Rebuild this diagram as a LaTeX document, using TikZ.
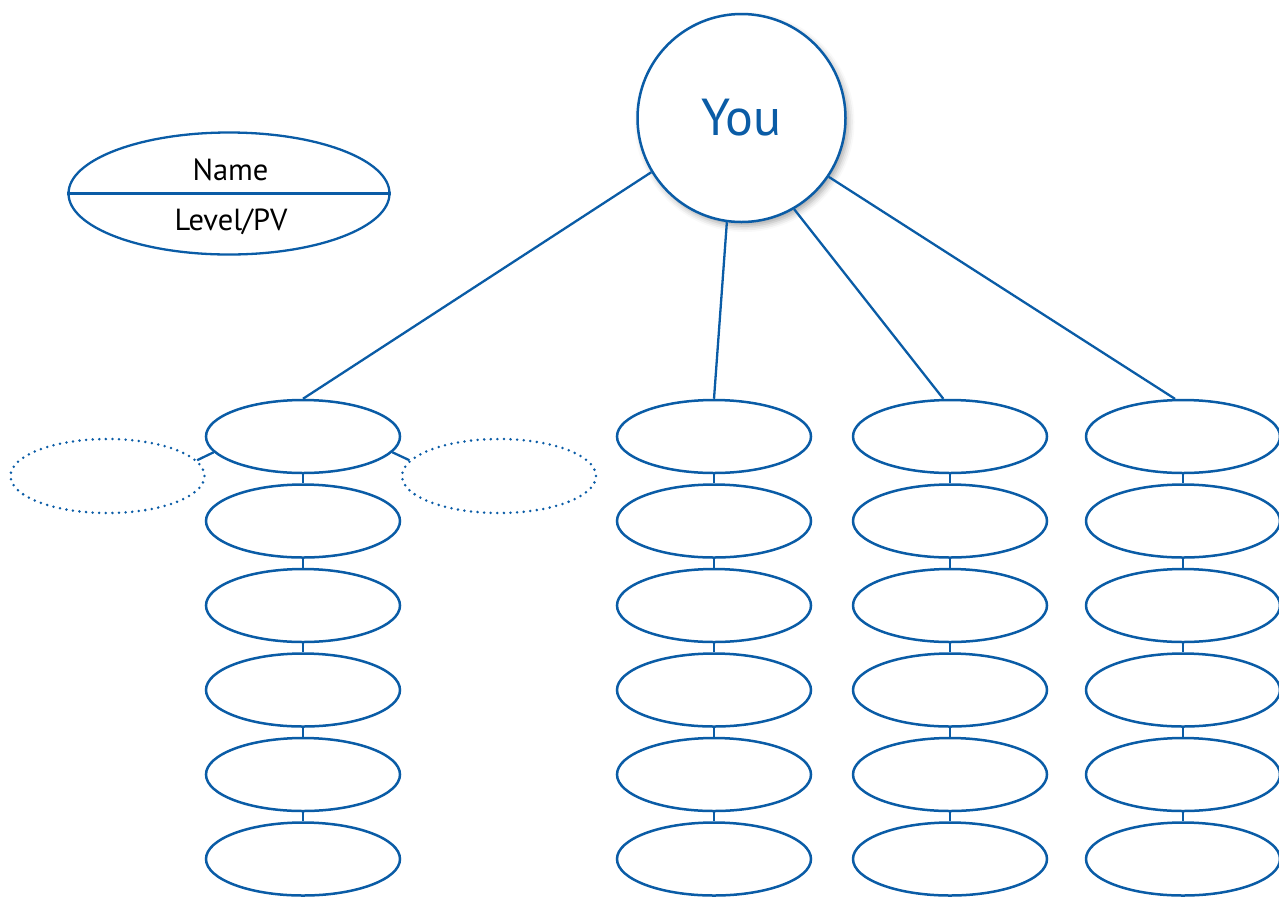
\documentclass[tikz,border=0pt]{standalone}
\usepackage{fontspec}
\setmainfont{PT Sans}
\usetikzlibrary{shapes.geometric,shadows.blur}
\definecolor{tblue}{RGB}{10,92,166}
\tikzset{
  member/.style={ellipse, draw=tblue, line width=2.5pt, fill=white, minimum width=194pt, minimum height=73pt, inner sep=0pt},
  ghost/.style={ellipse, draw=tblue, line width=2.8pt, dash pattern=on 0pt off 6.6pt, line cap=round, minimum width=194pt, minimum height=74pt, inner sep=0pt},
  link/.style={draw=tblue, line width=2.3pt},
  youcircle/.style={circle, draw=tblue, line width=2.5pt, fill=white, minimum size=208pt, inner sep=0pt, text=tblue, font=\fontsize{52}{60}\selectfont, blur shadow={shadow xshift=3pt, shadow yshift=-4pt, shadow blur radius=6pt, shadow opacity=35}},
  legend/.style={ellipse, draw=tblue, line width=2.3pt, minimum width=321pt, minimum height=122pt, inner sep=0pt},
  legtext/.style={font=\fontsize{30.5}{34}\selectfont, text=black, inner sep=0pt}
}
\begin{document}
\begin{tikzpicture}[x=1pt,y=-1pt]
\useasboundingbox (0,0) rectangle (1279,898);
% legend
\node[legend] (leg) at (229,193.5) {};
\draw[link] (leg.west) -- (leg.east);
\node[legtext, anchor=base] (nm) at (230.5,180) {Name};
\node[legtext, anchor=base] (lv) at (231,230) {Level/PV};
% columns
\foreach \c/\x in {1/303,2/714,3/950,4/1183}{
  \foreach \r/\y in {1/436.5,2/521,3/605.5,4/690,5/774.5,6/859}{
    \node[member] (c\c r\r) at (\x,\y) {};
  }
  \foreach \r/\s in {1/2,2/3,3/4,4/5,5/6}{
    \draw[link] (c\c r\r.south) -- (c\c r\s.north);
  }
}
% ghost ellipses
\node[ghost] (gl) at (107.5,476) {};
\node[ghost] (gr) at (499,476) {};
\draw[link] (c1r1.190) -- (gl.10);
\draw[link] (c1r1.-10) -- (gr.170);
% You
\node[youcircle] (you) at (741.5,118) {You};
\draw[link] (you.211) -- (c1r1.north);
\draw[link] (you.262) -- (c2r1.north);
\draw[link] (you.300) -- (c3r1.100);
\draw[link] (you.326) -- (c4r1.102);
\end{tikzpicture}
\end{document}
